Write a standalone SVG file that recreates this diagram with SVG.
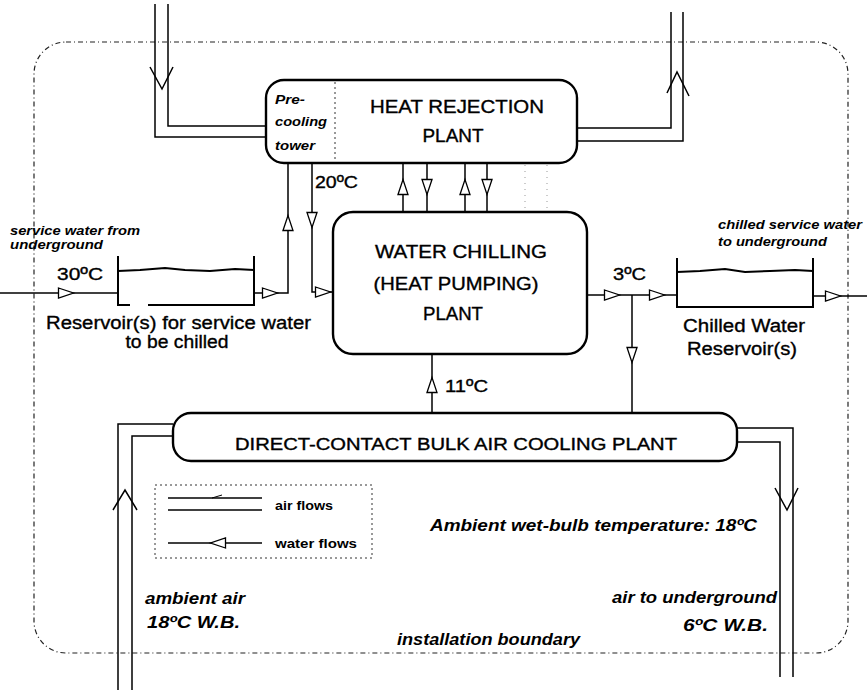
<svg xmlns="http://www.w3.org/2000/svg" width="867" height="690" viewBox="0 0 867 690">
<style>
  .bg{fill:#fff}
  .box{fill:none;stroke:#000;stroke-width:2.4}
  .pipe{fill:none;stroke:#000;stroke-width:1.5}
  .wall{fill:none;stroke:#000;stroke-width:2}
  .arr{fill:#fff;stroke:#000;stroke-width:1.3;stroke-linejoin:miter}
  .bound{fill:none;stroke:#222;stroke-width:1.2;stroke-dasharray:5 3 1 3}
  .dot{fill:none;stroke:#333;stroke-width:1;stroke-dasharray:2 3}
  .faint{fill:none;stroke:#999;stroke-width:1;stroke-dasharray:1 5}
  text{font-family:"Liberation Sans",Arial,sans-serif;fill:#000}
  .lbl{font-size:18px;stroke:#000;stroke-width:0.35}
  .tmp{font-size:17px;stroke:#000;stroke-width:0.35}
  .it{font-style:italic;font-weight:bold}
  .sm{font-size:13px}
  .md{font-size:16px}
  .cap{stroke:#000;stroke-width:0.35}
</style>
<defs>
  <path id="tri" d="M-7.5,-5 L7.5,0 L-7.5,5 Z" class="arr"/>
</defs>
<rect class="bg" x="0" y="0" width="867" height="690"/>

<g id="boundary">
  <rect class="bound" x="34" y="42" width="814" height="611" rx="32"/>
</g>

<g id="connectors">
  <polyline class="pipe" points="155,4 155,137 266,137"/>
  <polyline class="pipe" points="168,4 168,126 266,126"/>
  <polyline class="pipe" points="150,67 162,89 173,67"/>
  <polyline class="pipe" points="671,12 671,128 577,128"/>
  <polyline class="pipe" points="683,12 683,141 577,141"/>
  <polyline class="pipe" points="667,93 677,72 689,96"/>
  <line class="pipe" x1="403" y1="163" x2="403" y2="212"/>
  <line class="pipe" x1="427" y1="163" x2="427" y2="212"/>
  <line class="pipe" x1="465" y1="163" x2="465" y2="212"/>
  <line class="pipe" x1="487" y1="163" x2="487" y2="212"/>
  <use href="#tri" transform="translate(403,187) rotate(-90)"/>
  <use href="#tri" transform="translate(427,187) rotate(90)"/>
  <use href="#tri" transform="translate(465,187) rotate(-90)"/>
  <use href="#tri" transform="translate(487,187) rotate(90)"/>
  <line class="faint" x1="525" y1="165" x2="525" y2="210"/>
  <line class="faint" x1="547" y1="165" x2="547" y2="210"/>
  <line class="pipe" x1="0" y1="293" x2="118" y2="293"/>
  <use href="#tri" transform="translate(66,293)"/>
  <polyline class="pipe" points="254,293 288,293 288,163"/>
  <use href="#tri" transform="translate(270,293)"/>
  <use href="#tri" transform="translate(288,223) rotate(-90)"/>
  <polyline class="pipe" points="312,163 312,292 333,292"/>
  <use href="#tri" transform="translate(312,220) rotate(90)"/>
  <use href="#tri" transform="translate(323,292)"/>
  <line class="pipe" x1="587" y1="295" x2="677" y2="295"/>
  <use href="#tri" transform="translate(612,295)"/>
  <use href="#tri" transform="translate(657,295)"/>
  <line class="pipe" x1="632" y1="295" x2="632" y2="413"/>
  <use href="#tri" transform="translate(632,355) rotate(90)"/>
  <line class="pipe" x1="813" y1="296" x2="867" y2="296"/>
  <use href="#tri" transform="translate(833,296)"/>
  <line class="pipe" x1="432" y1="354" x2="432" y2="413"/>
  <use href="#tri" transform="translate(432,385) rotate(-90)"/>
  <polyline class="pipe" points="118,690 118,424 173,424"/>
  <polyline class="pipe" points="132,690 132,436 173,436"/>
  <polyline class="pipe" points="113,510 125,490 137,510"/>
  <polyline class="pipe" points="737,428 793,428 793,677"/>
  <polyline class="pipe" points="737,442 780,442 780,677"/>
  <polyline class="pipe" points="775,488 787,510 798,488"/>
</g>

<g id="heat-rejection">
  <rect class="box" x="266" y="80" width="311" height="83" rx="18"/>
  <line class="dot" x1="335" y1="82" x2="335" y2="161"/>
  <text class="it sm" x="275" y="104" textLength="30" lengthAdjust="spacingAndGlyphs">Pre-</text>
  <text class="it sm" x="275" y="126" textLength="52" lengthAdjust="spacingAndGlyphs">cooling</text>
  <text class="it sm" x="275" y="150" textLength="40" lengthAdjust="spacingAndGlyphs">tower</text>
  <text class="lbl" x="457" y="113" text-anchor="middle" textLength="174" lengthAdjust="spacingAndGlyphs">HEAT REJECTION</text>
  <text class="lbl" x="453" y="142" text-anchor="middle" textLength="61" lengthAdjust="spacingAndGlyphs">PLANT</text>
  <text class="tmp" x="315" y="188" textLength="43" lengthAdjust="spacingAndGlyphs">20ºC</text>
</g>

<g id="chilling">
  <rect class="box" x="333" y="212" width="254" height="142" rx="20"/>
  <text class="lbl" x="461" y="258" text-anchor="middle" textLength="172" lengthAdjust="spacingAndGlyphs">WATER CHILLING</text>
  <text class="lbl" x="456" y="290" text-anchor="middle" textLength="165" lengthAdjust="spacingAndGlyphs">(HEAT PUMPING)</text>
  <text class="lbl" x="453" y="320" text-anchor="middle" textLength="60" lengthAdjust="spacingAndGlyphs">PLANT</text>
  <text class="tmp" x="445" y="392" textLength="43" lengthAdjust="spacingAndGlyphs">11ºC</text>
  <text class="tmp" x="613" y="280" textLength="33" lengthAdjust="spacingAndGlyphs">3ºC</text>
</g>

<g id="service-reservoir">
  <polyline class="wall" points="118,256 118,305 130,305"/>
  <polyline class="wall" points="148,305 254,305 254,256"/>
  <path class="wall" d="M118,271 L140,270 L165,268 L185,270 L210,271 L235,269 L254,270"/>
  <text class="it sm" x="10" y="235" textLength="130" lengthAdjust="spacingAndGlyphs">service water from</text>
  <text class="it sm" x="10" y="249" textLength="93" lengthAdjust="spacingAndGlyphs">underground</text>
  <text class="tmp" x="57" y="280" textLength="46" lengthAdjust="spacingAndGlyphs">30ºC</text>
  <text class="lbl" x="46" y="329" textLength="265" lengthAdjust="spacingAndGlyphs">Reservoir(s) for service water</text>
  <text class="lbl" x="177" y="348" text-anchor="middle" textLength="103" lengthAdjust="spacingAndGlyphs">to be chilled</text>
</g>

<g id="chilled-reservoir">
  <polyline class="wall" points="677,258 677,307 813,307 813,258"/>
  <path class="wall" d="M677,272 L700,271 L725,269 L745,272 L770,271 L795,270 L813,271"/>
  <text class="it sm" x="718" y="229" textLength="144" lengthAdjust="spacingAndGlyphs">chilled service water</text>
  <text class="it sm" x="718" y="246" textLength="109" lengthAdjust="spacingAndGlyphs">to underground</text>
  <text class="lbl" x="744" y="332" text-anchor="middle" textLength="122" lengthAdjust="spacingAndGlyphs">Chilled Water</text>
  <text class="lbl" x="742" y="355" text-anchor="middle" textLength="110" lengthAdjust="spacingAndGlyphs">Reservoir(s)</text>
</g>

<g id="bulk-air-cooling">
  <rect class="box" x="173" y="413" width="564" height="48" rx="18"/>
  <text class="md cap" x="456" y="450" text-anchor="middle" textLength="442" lengthAdjust="spacingAndGlyphs">DIRECT-CONTACT BULK AIR COOLING PLANT</text>
</g>

<g id="legend">
  <rect class="dot" x="155" y="485" width="217" height="73"/>
  <line class="pipe" x1="168" y1="498" x2="262" y2="498" style="stroke-width:1.3"/>
  <line class="pipe" x1="168" y1="510" x2="262" y2="510" style="stroke-width:1.3"/>
  <polyline class="pipe" points="222,495 212,498" style="stroke-width:1"/>
  <line class="pipe" x1="168" y1="543" x2="262" y2="543" style="stroke-width:1.3"/>
  <use href="#tri" transform="translate(218,543) rotate(180)"/>
  <text class="sm" x="275" y="510" style="font-weight:bold" textLength="58" lengthAdjust="spacingAndGlyphs">air flows</text>
  <text class="sm" x="275" y="548" style="font-weight:bold" textLength="82" lengthAdjust="spacingAndGlyphs">water flows</text>
</g>

<g id="annotations">
  <text class="it md" x="430" y="531" textLength="327" lengthAdjust="spacingAndGlyphs">Ambient wet-bulb temperature: 18ºC</text>
  <text class="it md" x="145" y="604" textLength="100" lengthAdjust="spacingAndGlyphs">ambient air</text>
  <text class="it md" x="147" y="628" textLength="93" lengthAdjust="spacingAndGlyphs">18ºC W.B.</text>
  <text class="it md" x="777" y="603" text-anchor="end" textLength="165" lengthAdjust="spacingAndGlyphs">air to underground</text>
  <text class="it md" x="768" y="631" text-anchor="end" textLength="85" lengthAdjust="spacingAndGlyphs">6ºC W.B.</text>
  <text class="it md" x="397" y="645" textLength="183" lengthAdjust="spacingAndGlyphs">installation boundary</text>
</g>
</svg>
